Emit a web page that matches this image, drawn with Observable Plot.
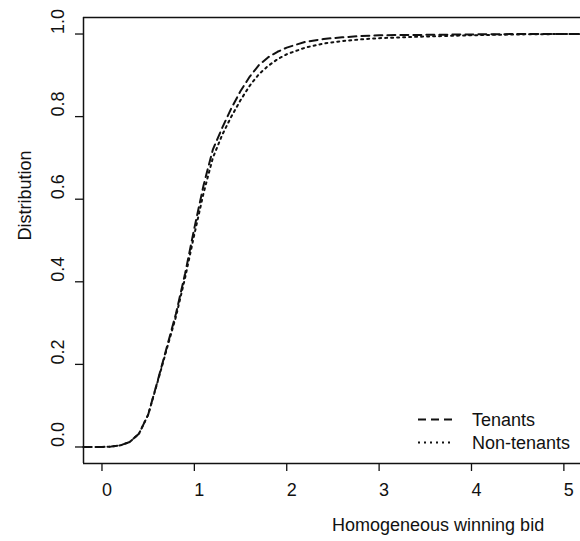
<!DOCTYPE html>
<html>
<head>
<meta charset="utf-8">
<script src="https://cdn.jsdelivr.net/npm/d3@7"></script>
<script src="https://cdn.jsdelivr.net/npm/@observablehq/plot@0.6"></script>
<style>
  html, body { margin: 0; padding: 0; background: #fff; overflow: hidden; }
</style>
</head>
<body>
<div id="chart"></div>
<script>
// ---- data ----
const bid = [-0.2, 0, 0.1, 0.2, 0.3, 0.4, 0.5, 0.6, 0.7, 0.8, 0.9, 1.0, 1.1, 1.2, 1.3, 1.4, 1.5, 1.6, 1.7, 1.8, 1.9, 2.0, 2.2, 2.4, 2.6, 2.8, 3.0, 3.5, 4.0, 4.5, 5.0, 5.2];
const tenants = [0, 0, 0.001, 0.004, 0.012, 0.032, 0.078, 0.158, 0.24, 0.322, 0.42, 0.53, 0.634, 0.72, 0.772, 0.82, 0.862, 0.897, 0.925, 0.944, 0.957, 0.967, 0.981, 0.988, 0.992, 0.995, 0.997, 0.998, 0.999, 1.0, 1.0, 1.0];
const nonTenants = [0, 0, 0.001, 0.004, 0.012, 0.032, 0.078, 0.156, 0.236, 0.315, 0.41, 0.515, 0.615, 0.70, 0.755, 0.80, 0.84, 0.875, 0.903, 0.923, 0.939, 0.951, 0.967, 0.977, 0.983, 0.987, 0.99, 0.994, 0.997, 0.999, 1.0, 1.0];
const seriesNames = ["Tenants", "Non-tenants"];
const xTicks = [0, 1, 2, 3, 4, 5];
const yTicks = [0, 0.2, 0.4, 0.6, 0.8, 1.0];
const xLabel = "Homogeneous winning bid";
const yLabel = "Distribution";
const xDomain = [-0.2, 5.18];
const yDomain = [-0.04, 1.04];

const dashes = ["8,5", "2,4"];
const ink = "#111";
const font = "'Liberation Sans', Arial, Helvetica, sans-serif";

const tenantsData = bid.map((x, i) => ({x, y: tenants[i]}));
const nonTenantsData = bid.map((x, i) => ({x, y: nonTenants[i]}));

function legend(index, scales, values, dimensions) {
  const {width, height, marginRight, marginBottom} = dimensions;
  const right = width - marginRight;
  const bottom = height - marginBottom;
  const g = d3.create("svg:g");
  const rows = [bottom - 43.5, bottom - 20.5];
  seriesNames.forEach((name, i) => {
    g.append("line")
      .attr("x1", right - 162).attr("x2", right - 127)
      .attr("y1", rows[i]).attr("y2", rows[i])
      .attr("stroke", ink).attr("stroke-width", 2)
      .attr("stroke-dasharray", dashes[i]);
    g.append("text")
      .attr("x", right - 108).attr("y", rows[i])
      .attr("dy", "0.36em")
      .attr("text-anchor", "start")
      .attr("fill", ink)
      .attr("font-size", 18)
      .attr("font-family", font)
      .text(name);
  });
  return g.node();
}

const chart = Plot.plot({
  width: 580,
  height: 541,
  marginLeft: 83,
  marginRight: 0,
  marginTop: 17,
  marginBottom: 78,
  style: {fontFamily: font, fontSize: "18px", color: ink, background: "#fff", overflow: "hidden"},
  x: {domain: xDomain},
  y: {domain: yDomain},
  marks: [
    Plot.line(tenantsData, {x: "x", y: "y", stroke: ink, strokeWidth: 2, strokeDasharray: dashes[0]}),
    Plot.line(nonTenantsData, {x: "x", y: "y", stroke: ink, strokeWidth: 2, strokeDasharray: dashes[1]}),
    // box (left, top, bottom)
    Plot.ruleX([xDomain[0]], {stroke: ink, strokeWidth: 1.5}),
    Plot.ruleY(yDomain, {stroke: ink, strokeWidth: 1.5}),
    Plot.axisX({ticks: xTicks, tickFormat: d => String(d), tickSize: 8, tickPadding: 12, textAnchor: "start", label: null, fontSize: 18, stroke: ink, strokeWidth: 1.3}),
    Plot.axisY({ticks: yTicks, tickSize: 8, tickFormat: () => "", label: null, stroke: ink, strokeWidth: 1.3}),
    Plot.text(yTicks, {y: d => d, text: d => d.toFixed(1), frameAnchor: "left", rotate: -90, textAnchor: "start", lineAnchor: "bottom", dx: -20, fontSize: 18, fill: ink}),
    Plot.text([xLabel], {text: d => d, frameAnchor: "bottom", textAnchor: "start", lineAnchor: "bottom", dy: 67, fontSize: 18, fill: ink}),
    Plot.text([yLabel], {text: d => d, frameAnchor: "left", rotate: -90, lineAnchor: "bottom", textAnchor: "start", dx: -53, fontSize: 18, fill: ink}),
    legend
  ]
});
document.getElementById("chart").appendChild(chart);
</script>
</body>
</html>
